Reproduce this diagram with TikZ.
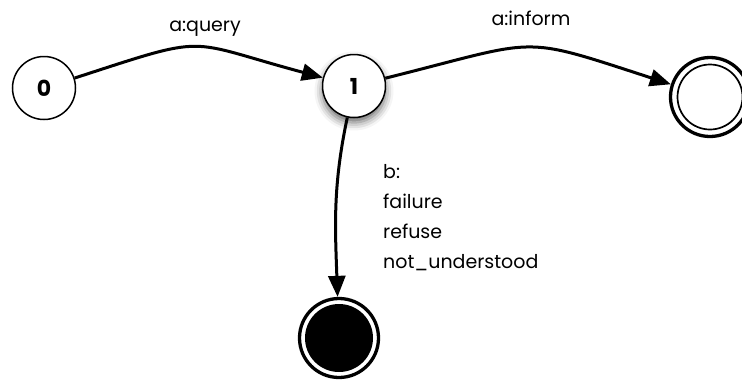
\documentclass[tikz,border=0pt]{standalone}
\usepackage{fontspec}
\setmainfont{Poppins}
\usetikzlibrary{arrows.meta,shadows.blur}
\begin{document}
\begin{tikzpicture}[x=1pt,y=1pt,
  state/.style={circle,draw=black,line width=1.5pt,fill=white,minimum size=63pt,inner sep=0pt,font=\fontsize{22}{22}\selectfont\bfseries},
  finalouter/.style={circle,draw=black,line width=3.3pt,fill=white,minimum size=79pt,inner sep=0pt},
  finalinner/.style={circle,draw=black,line width=1.7pt,minimum size=65pt,inner sep=0pt},
  trans/.style={line width=3pt,-{Triangle[length=21pt,width=17pt]}},
  lbl/.style={font=\fontsize{19}{30}\selectfont,inner sep=0pt}]
\useasboundingbox (0,0) rectangle (742,-381);
\clip (0,0) rectangle (742,-381);
\node[state] (n0) at (44,-88) {0};
\node[state,blur shadow={shadow xshift=0pt,shadow yshift=-5pt,shadow blur radius=8pt,shadow opacity=60}] (n1) at (354,-86) {1};
\node[finalouter] (f) at (710,-97) {};
\node[finalinner] (fi) at (f.center) {};
\node[finalouter] (b) at (339,-338) {};
\fill[black] (b.center) circle (34);
\draw[trans] (n0) to[out=18,in=165,looseness=1.5] (n1);
\draw[trans] (n1) to[out=14,in=162,looseness=1.45] (f);
\draw[trans] (n1) to[out=258,in=92] (b);
\node[lbl] (lq) at (205,-29) {a:query};
\node[lbl] (li) at (531,-18) {a:inform};
\node[lbl,align=left,anchor=north west] (lb) at (383,-164) {b:\\failure\\refuse\\not\_understood};
\end{tikzpicture}
\end{document}
